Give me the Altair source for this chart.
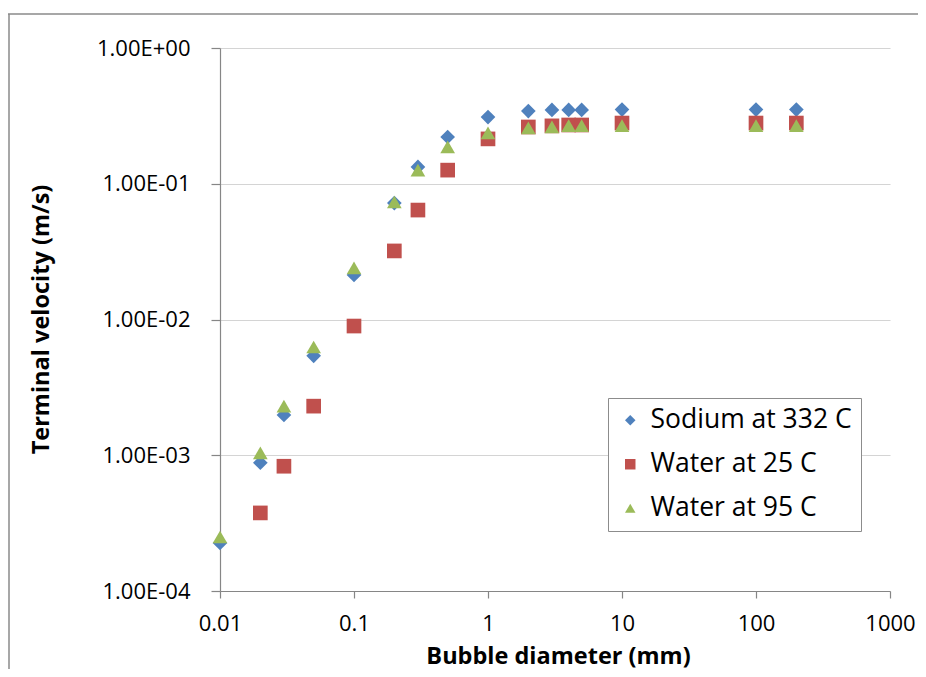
import altair as alt
import pandas as pd

# ---- data ----
series_names = ["Sodium at 332 C", "Water at 25 C", "Water at 95 C"]
series_colors = ["#4F81BD", "#C0504D", "#9BBB59"]
series_shapes = ["diamond", "square", "triangle-up"]

sodium_d = [0.01, 0.02, 0.03, 0.05, 0.1, 0.2, 0.3, 0.5, 1, 2, 3, 4, 5, 10, 100, 200]
sodium_v = [2.26e-4, 8.8e-4, 1.98e-3, 5.4e-3, 0.0213, 0.072, 0.133, 0.221, 0.31,
            0.343, 0.35, 0.35, 0.35, 0.352, 0.352, 0.352]

water25_d = [0.02, 0.03, 0.05, 0.1, 0.2, 0.3, 0.5, 1, 2, 3, 4, 5, 10, 100, 200]
water25_v = [3.76e-4, 8.3e-4, 2.3e-3, 8.95e-3, 0.032, 0.064, 0.126, 0.214,
             0.262, 0.267, 0.271, 0.271, 0.28, 0.28, 0.28]

water95_d = [0.01, 0.02, 0.03, 0.05, 0.1, 0.2, 0.3, 0.5, 1, 2, 3, 4, 5, 10, 100, 200]
water95_v = [2.5e-4, 1.04e-3, 2.3e-3, 6.27e-3, 0.024, 0.0734, 0.126, 0.187, 0.237,
             0.258, 0.262, 0.268, 0.268, 0.268, 0.268, 0.268]

x_ticks = [0.01, 0.1, 1, 10, 100, 1000]
y_ticks = [1e-4, 1e-3, 1e-2, 1e-1, 1]

rows = []
for i, (name, ds, vs) in enumerate(zip(series_names,
                                       [sodium_d, water25_d, water95_d],
                                       [sodium_v, water25_v, water95_v])):
    for d, v in zip(ds, vs):
        rows.append({"d": d, "v": v, "series": name, "o": i})
df = pd.DataFrame(rows)

legend = alt.Legend(
    title=None, orient="none", legendX=388, legendY=350,
    strokeColor="#8c8c8c", fillColor="white", padding=9,
    labelFont="Open Sans", labelFontSize=26.5, labelColor="#000000",
    labelLimit=0,
    symbolSize=110, rowPadding=17, labelOffset=7, symbolStrokeWidth=0,
)

exp_expr = "round(log(datum.value)/LN10)"
y_label_expr = ("'1.00E' + (" + exp_expr + " >= 0 ? '+' : '-') + "
                "(abs(" + exp_expr + ") < 10 ? '0' : '') + abs(" + exp_expr + ")")

points = alt.Chart(df).mark_point(filled=True, opacity=1, size=215).encode(
    x=alt.X("d:Q",
            scale=alt.Scale(type="log", domain=[0.01, 1000], nice=False),
            axis=alt.Axis(values=x_ticks, format="~g", grid=False,
                          title="Bubble diameter (mm)", labelFlush=False,
                          tickSize=7, labelPadding=15,
                          titleX=338, titleY=65, titleBaseline="middle")),
    y=alt.Y("v:Q",
            scale=alt.Scale(type="log", domain=[1e-4, 1], nice=False),
            axis=alt.Axis(values=y_ticks, labelExpr=y_label_expr, grid=True,
                          title="Terminal velocity (m/s)", labelFlush=False,
                          tickSize=9, labelPadding=21,
                          titleX=-179, titleY=271, titleBaseline="middle")),
    color=alt.Color("series:N",
                    scale=alt.Scale(domain=series_names, range=series_colors),
                    legend=legend),
    shape=alt.Shape("series:N",
                    scale=alt.Scale(domain=series_names, range=series_shapes),
                    legend=legend),
    order=alt.Order("o:Q"),
)

frame_src = pd.DataFrame({"k": [0]})
frame_top = alt.Chart(frame_src).mark_rule(stroke="#8a8a8a", strokeWidth=1.5).encode(
    x=alt.value(-212), x2=alt.value(720), y=alt.value(-34),
)
frame_left = alt.Chart(frame_src).mark_rule(stroke="#8a8a8a", strokeWidth=1.5).encode(
    x=alt.value(-211), y=alt.value(-34), y2=alt.value(640),
)

chart = alt.layer(frame_top, frame_left, points).properties(
    width=670, height=543,
    autosize=alt.AutoSizeParams(type="none"),
    padding={"left": 212, "top": 40, "right": 28, "bottom": 78},
    background="white",
).configure_view(stroke=None).configure_axis(
    labelFont="Open Sans", labelFontSize=22, labelColor="#000000",
    titleFont="Open Sans", titleFontSize=23.5, titleFontWeight="bold",
    titleColor="#000000",
    domainColor="#868686", domainWidth=1.2,
    tickColor="#868686", tickWidth=1.2,
    gridColor="#d4d4d4", gridWidth=1.2,
)

chart.save("out.html", embed_options={"renderer": "svg", "actions": False})
